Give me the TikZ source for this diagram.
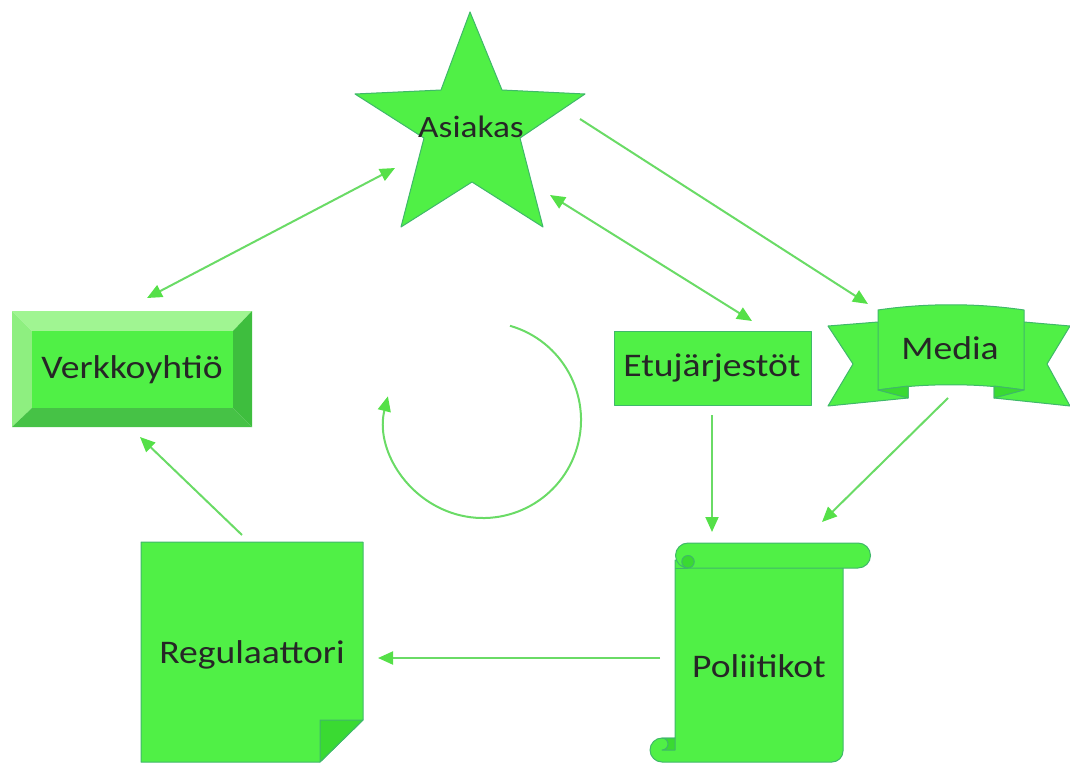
\documentclass[tikz,border=0pt]{standalone}
\usepackage{fontspec}
\setmainfont{Carlito}[FakeStretch=1.14]
\usetikzlibrary{arrows.meta}
\definecolor{shapegreen}{HTML}{50F046}
\definecolor{edgegreen}{HTML}{3FB86A}
\definecolor{linkgreen}{HTML}{6ADB66}
\definecolor{tipgreen}{HTML}{55E048}
\definecolor{bevellight}{HTML}{A0F592}
\definecolor{bevelside}{HTML}{8EEF80}
\definecolor{beveldark}{HTML}{3EBE3E}
\definecolor{bevelbottom}{HTML}{46C246}
\definecolor{foldgreen}{HTML}{3ADA32}
\tikzset{
  x=1pt, y=-1pt,
  shapebody/.style={fill=shapegreen, draw=edgegreen, line width=1pt, line join=round},
  label/.style={font=\fontsize{33}{38}\selectfont, text=black!85, inner sep=0pt},
  link/.style={draw=linkgreen, line width=2pt,
    -{Triangle[length=15pt,width=13pt,fill=tipgreen,color=tipgreen]}},
  twoway/.style={link, {Triangle[length=15pt,width=13pt,fill=tipgreen,color=tipgreen]}-{Triangle[length=15pt,width=13pt,fill=tipgreen,color=tipgreen]}},
}
\begin{document}
\begin{tikzpicture}
\useasboundingbox (0,0) rectangle (1070,765);

% Asiakas: five-pointed star
\path[shapebody] (470,12) -- (502,90) -- (585,94) -- (520,138) -- (543,227)
  -- (472,182) -- (401,227) -- (424,138) -- (355,94) -- (441,90) -- cycle;
\node[label, font=\fontsize{31}{36}\selectfont] (asiakas) at (471,127) {Asiakas};

% Verkkoyhtiö: bevelled button
\fill[bevellight] (12,311) -- (252,311) -- (233,331) -- (32,331) -- cycle;
\fill[bevelside] (12,311) -- (32,331) -- (32,408) -- (12,427) -- cycle;
\fill[beveldark] (252,311) -- (252,427) -- (233,408) -- (233,331) -- cycle;
\fill[bevelbottom] (12,427) -- (252,427) -- (233,408) -- (32,408) -- cycle;
\fill[shapegreen] (32,331) rectangle (233,408);
\node[label] (verkko) at (132,370) {Verkkoyhtiö};

% Etujärjestöt: plain box
\path[shapebody] (614,331) rectangle (811,405);
\node[label] (etu) at (712,368) {Etujärjestöt};

% Media: ribbon banner
\path[shapebody] (878,322) -- (828,326) -- (853,364) -- (828,406) -- (908,398) -- (908,385) -- cycle;
\path[shapebody] (1024,322) -- (1070,326) -- (1047,364) -- (1070,406) -- (994,398) -- (994,385) -- cycle;
\path[shapebody] (878,310) .. controls (925,303) and (977,303) .. (1024,310)
  -- (1024,390) .. controls (977,383) and (925,383) .. (878,390) -- cycle;
\path[shapebody, fill=foldgreen] (878,390) -- (908,386) -- (908,398) -- cycle;
\path[shapebody, fill=foldgreen] (1024,390) -- (994,386) -- (994,398) -- cycle;
\node[label] (media) at (950,348) {Media};

% Poliitikot: vertical scroll (y grows downwards, so angles run clockwise)
\path[shapebody] (675,560) -- (843,560) -- (843,751)
  arc[start angle=0, end angle=90, radius=11] -- (662,762)
  arc[start angle=90, end angle=270, radius=12] -- (675,738) -- cycle;
\path[shapebody, fill=foldgreen] (662,738) arc[start angle=270, end angle=450, radius=6]
  -- (675,750) -- (675,738) -- cycle;
\path[shapebody] (688,543) -- (858,543) arc[start angle=-90, end angle=90, radius=12.5]
  -- (688,568) arc[start angle=90, end angle=270, radius=12.5] -- cycle;
\path[shapebody, fill=foldgreen] (688,568) arc[start angle=90, end angle=-90, radius=6.25]
  arc[start angle=-90, end angle=-270, radius=6.25] -- cycle;
\draw[edgegreen, line width=1pt] (675,568) -- (688,568);
\node[label] (poli) at (759,666) {Poliitikot};

% Regulaattori: note with folded corner
\path[shapebody] (141,542) -- (363,542) -- (363,720) -- (320,762) -- (141,762) -- cycle;
\path[shapebody, fill=foldgreen] (320,720) -- (363,720) -- (320,762) -- cycle;
\node[label] (regu) at (252,655) {Regulaattori};

% connector end points
\coordinate (aL) at (395,168);
\coordinate (vT) at (147,298);
\coordinate (aR) at (550,195);
\coordinate (eT) at (752,321);
\coordinate (aE) at (580,119);
\coordinate (mT) at (868,304);
\coordinate (eB) at (712,415);
\coordinate (pT) at (712,532);
\coordinate (mB) at (948,398);
\coordinate (pR) at (822,522);
\coordinate (pL) at (660,658);
\coordinate (rR) at (378,658);
\coordinate (rT) at (242,535);
\coordinate (vB) at (140,437);

\draw[twoway] (vT) -- (aL);
\draw[twoway] (aR) -- (eT);
\draw[link] (aE) -- (mT);
\draw[link] (eB) -- (pT);
\draw[link] (mB) -- (pR);
\draw[link] (pL) -- (rR);
\draw[link] (rT) -- (vB);

% cycle arrow in the middle
\coordinate (cyc) at (483,420);
\draw[link] ([shift={(-74:98)}]cyc) arc[start angle=-74, end angle=194, radius=98];
\end{tikzpicture}
\end{document}
